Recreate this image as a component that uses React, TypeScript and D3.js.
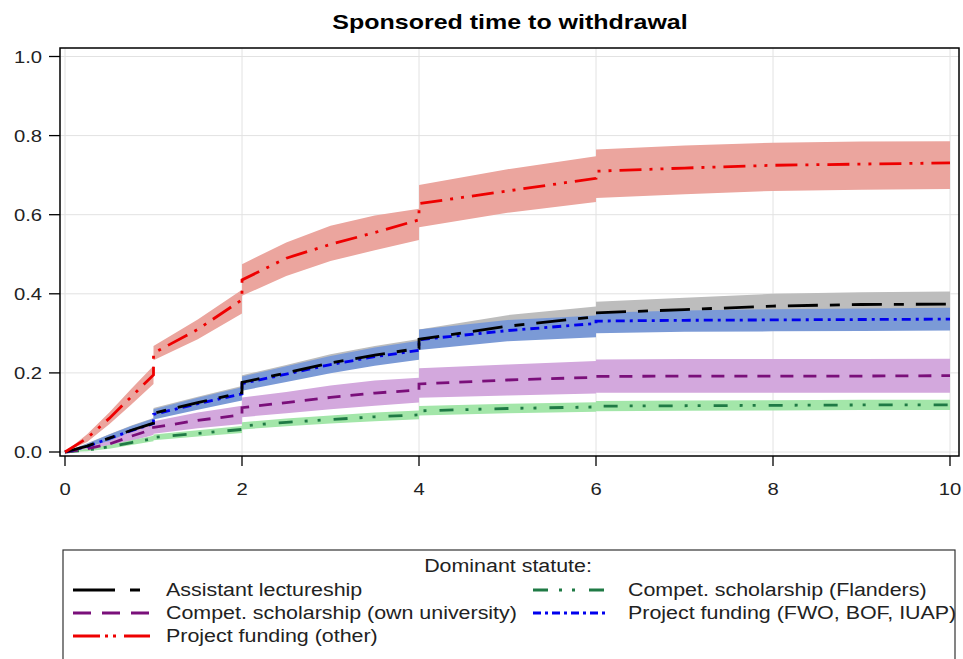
import React from "react";
import * as d3 from "d3";

// Shared time grid (years). Repeated times mark the vertical jumps of the step curves.
const TIME = [0, 0.25, 0.5, 0.75, 1, 1, 1.5, 2, 2, 2.5, 3, 3.5, 4, 4, 5, 6, 6, 7, 8, 9, 10];

const X_TICKS = [0, 2, 4, 6, 8, 10];
const Y_TICKS = [0, 0.2, 0.4, 0.6, 0.8, 1.0];

const TITLE = "Sponsored time to withdrawal";
const LEGEND_TITLE = "Dominant statute:";

// Assistant lectureship
const ASSIST_EST = [0, 0.015, 0.035, 0.055, 0.073, 0.098, 0.125, 0.15, 0.176, 0.2, 0.225, 0.245, 0.262, 0.285, 0.318, 0.342, 0.352, 0.36, 0.369, 0.373, 0.374];
const ASSIST_LO = [0, 0.008, 0.025, 0.043, 0.06, 0.085, 0.11, 0.133, 0.158, 0.18, 0.203, 0.222, 0.238, 0.26, 0.29, 0.312, 0.322, 0.328, 0.336, 0.34, 0.34];
const ASSIST_HI = [0, 0.022, 0.045, 0.067, 0.086, 0.111, 0.14, 0.167, 0.194, 0.22, 0.247, 0.268, 0.286, 0.31, 0.346, 0.368, 0.38, 0.39, 0.4, 0.404, 0.406];

// Compet. scholarship (own university)
const OWN_EST = [0, 0.008, 0.02, 0.04, 0.058, 0.062, 0.08, 0.094, 0.112, 0.125, 0.138, 0.149, 0.157, 0.172, 0.182, 0.189, 0.191, 0.192, 0.192, 0.192, 0.193];
const OWN_LO = [0, 0.003, 0.012, 0.028, 0.043, 0.046, 0.06, 0.071, 0.088, 0.098, 0.108, 0.117, 0.125, 0.137, 0.143, 0.148, 0.15, 0.15, 0.15, 0.15, 0.15];
const OWN_HI = [0, 0.013, 0.028, 0.052, 0.073, 0.078, 0.1, 0.117, 0.138, 0.152, 0.168, 0.181, 0.188, 0.212, 0.221, 0.23, 0.234, 0.235, 0.235, 0.235, 0.236];

// Project funding (other)
const OTHER_EST = [0, 0.035, 0.085, 0.14, 0.195, 0.25, 0.31, 0.385, 0.435, 0.49, 0.525, 0.555, 0.587, 0.628, 0.66, 0.692, 0.71, 0.718, 0.725, 0.728, 0.731];
const OTHER_LO = [0, 0.025, 0.07, 0.12, 0.172, 0.232, 0.285, 0.35, 0.395, 0.445, 0.483, 0.51, 0.536, 0.568, 0.605, 0.632, 0.642, 0.652, 0.66, 0.663, 0.665];
const OTHER_HI = [0, 0.045, 0.1, 0.16, 0.218, 0.268, 0.335, 0.41, 0.475, 0.53, 0.572, 0.598, 0.615, 0.675, 0.715, 0.748, 0.765, 0.775, 0.782, 0.785, 0.786];

// Compet. scholarship (Flanders)
const FLAN_EST = [0, 0.005, 0.013, 0.024, 0.034, 0.037, 0.047, 0.057, 0.066, 0.075, 0.082, 0.089, 0.094, 0.104, 0.11, 0.114, 0.116, 0.117, 0.118, 0.119, 0.119];
const FLAN_LO = [0, 0.002, 0.008, 0.018, 0.027, 0.03, 0.039, 0.048, 0.057, 0.065, 0.072, 0.078, 0.083, 0.092, 0.098, 0.102, 0.103, 0.104, 0.105, 0.106, 0.106];
const FLAN_HI = [0, 0.008, 0.018, 0.03, 0.041, 0.044, 0.055, 0.066, 0.075, 0.085, 0.092, 0.1, 0.105, 0.116, 0.122, 0.126, 0.129, 0.13, 0.131, 0.132, 0.132];

// Project funding (FWO, BOF, IUAP)
const FWO_EST = [0, 0.014, 0.034, 0.054, 0.072, 0.095, 0.122, 0.147, 0.173, 0.197, 0.221, 0.241, 0.257, 0.284, 0.307, 0.325, 0.331, 0.333, 0.334, 0.335, 0.336];
const FWO_LO = [0, 0.007, 0.024, 0.042, 0.059, 0.082, 0.107, 0.13, 0.155, 0.177, 0.199, 0.218, 0.233, 0.258, 0.28, 0.29, 0.3, 0.304, 0.305, 0.306, 0.307];
const FWO_HI = [0, 0.021, 0.044, 0.066, 0.085, 0.108, 0.137, 0.164, 0.191, 0.217, 0.243, 0.264, 0.281, 0.31, 0.334, 0.345, 0.352, 0.358, 0.361, 0.363, 0.365];

type Series = {
  name: string;
  est: number[];
  lo: number[];
  hi: number[];
  line: string;
  band: string;
  dash: string;
  legendDash: string;
};

const SERIES: Record<string, Series> = {
  assist: { name: "Assistant lectureship", est: ASSIST_EST, lo: ASSIST_LO, hi: ASSIST_HI, line: "#000000", band: "#bdbdbd", dash: "30,12,10,12", legendDash: "42,15,10,30" },
  own: { name: "Compet. scholarship (own university)", est: OWN_EST, lo: OWN_LO, hi: OWN_HI, line: "#7a0f7a", band: "#d3a8dd", dash: "13,10", legendDash: "18,11" },
  other: { name: "Project funding (other)", est: OTHER_EST, lo: OTHER_LO, hi: OTHER_HI, line: "#ee0000", band: "#eba59e", dash: "22,8,3,8,3,8", legendDash: "27,5,3,5,3,8" },
  flan: { name: "Compet. scholarship (Flanders)", est: FLAN_EST, lo: FLAN_LO, hi: FLAN_HI, line: "#1f7a45", band: "#a3e6a9", dash: "14,12,3,10,3,13", legendDash: "15,11,3,10,3,14" },
  fwo: { name: "Project funding (FWO, BOF, IUAP)", est: FWO_EST, lo: FWO_LO, hi: FWO_HI, line: "#0000ee", band: "#7b9ad6", dash: "9,5,3,5", legendDash: "8,4,3,4" },
};

const BAND_ORDER = ["other", "assist", "fwo", "own", "flan"];
const LINE_ORDER = ["flan", "own", "fwo", "assist", "other"];
const LEGEND_LEFT = ["assist", "own", "other"];
const LEGEND_RIGHT = ["flan", "fwo"];

const W = 963;
const H = 659;
const FONT = "'Liberation Sans', Arial, sans-serif";
const STRETCH = 1.19;

function SText(props: {
  x: number;
  y: number;
  size: number;
  anchor?: "start" | "middle" | "end";
  bold?: boolean;
  fill?: string;
  children: React.ReactNode;
}) {
  const { x, y, size, anchor = "start", bold = false, fill = "#222", children } = props;
  return (
    <text
      transform={`translate(${x},${y}) scale(${STRETCH},1)`}
      textAnchor={anchor}
      fontSize={size}
      fontWeight={bold ? "bold" : "normal"}
      fill={fill}
    >
      {children}
    </text>
  );
}

export default function App() {
  const x = d3.scaleLinear().domain([0, 10]).range([65, 950]);
  const y = d3.scaleLinear().domain([0, 1]).range([452, 56.5]);
  const frame = { left: 60, top: 48, right: 959, bottom: 456 };

  const bandPath = (s: Series) =>
    d3
      .area<number>()
      .x((_, i) => x(TIME[i]))
      .y0((_, i) => y(s.lo[i]))
      .y1((_, i) => y(s.hi[i]))(TIME) || "";

  const linePath = (s: Series) =>
    d3
      .line<number>()
      .x((_, i) => x(TIME[i]))
      .y((_, i) => y(s.est[i]))(TIME) || "";

  const legendTop = 550;
  const rowY = [590, 613, 636];

  return (
    <svg width={W} height={H} style={{ position: "absolute", left: 0, top: 0, background: "#fff" }} fontFamily={FONT}>
      <rect x={0} y={0} width={W} height={H} fill="#fff" />
      <SText x={510} y={29} size={21} anchor="middle" bold fill="#000">
        {TITLE}
      </SText>

      {/* grid */}
      {Y_TICKS.map((t) => (
        <line key={"gy" + t} x1={frame.left} x2={frame.right} y1={y(t)} y2={y(t)} stroke="#e2e2e2" strokeWidth={1} />
      ))}
      {X_TICKS.map((t) => (
        <line key={"gx" + t} x1={x(t)} x2={x(t)} y1={frame.top} y2={frame.bottom} stroke="#e2e2e2" strokeWidth={1} />
      ))}

      {/* bands */}
      {BAND_ORDER.map((k) => (
        <path key={"b" + k} d={bandPath(SERIES[k])} fill={SERIES[k].band} stroke="none" />
      ))}

      {/* lines */}
      {LINE_ORDER.map((k) => (
        <path key={"l" + k} d={linePath(SERIES[k])} fill="none" stroke={SERIES[k].line} strokeWidth={2.8} strokeDasharray={SERIES[k].dash} />
      ))}

      {/* frame */}
      <rect x={frame.left} y={frame.top} width={frame.right - frame.left} height={frame.bottom - frame.top} fill="none" stroke="#000" strokeWidth={1.5} />

      {/* y axis */}
      {Y_TICKS.map((t) => (
        <g key={"yt" + t}>
          <line x1={49} x2={frame.left} y1={y(t)} y2={y(t)} stroke="#000" strokeWidth={1.3} />
          <SText x={42} y={y(t) + 6} size={17} anchor="end">
            {d3.format(".1f")(t)}
          </SText>
        </g>
      ))}

      {/* x axis */}
      {X_TICKS.map((t) => (
        <g key={"xt" + t}>
          <line x1={x(t)} x2={x(t)} y1={frame.bottom} y2={frame.bottom + 10} stroke="#000" strokeWidth={1.3} />
          <SText x={x(t)} y={495} size={17} anchor="middle">
            {t}
          </SText>
        </g>
      ))}

      {/* legend */}
      <rect x={63} y={legendTop} width={892} height={130} fill="none" stroke="#333" strokeWidth={1.2} />
      <SText x={508} y={572} size={18} anchor="middle">
        {LEGEND_TITLE}
      </SText>
      {LEGEND_LEFT.map((k, i) => (
        <g key={"ll" + k}>
          <line x1={73} x2={150} y1={rowY[i]} y2={rowY[i]} stroke={SERIES[k].line} strokeWidth={3} strokeDasharray={SERIES[k].legendDash} />
          <SText x={166} y={rowY[i] + 6} size={18}>
            {SERIES[k].name}
          </SText>
        </g>
      ))}
      {LEGEND_RIGHT.map((k, i) => (
        <g key={"lr" + k}>
          <line x1={533} x2={607} y1={rowY[i]} y2={rowY[i]} stroke={SERIES[k].line} strokeWidth={3} strokeDasharray={SERIES[k].legendDash} />
          <SText x={628} y={rowY[i] + 6} size={18}>
            {SERIES[k].name}
          </SText>
        </g>
      ))}
    </svg>
  );
}
